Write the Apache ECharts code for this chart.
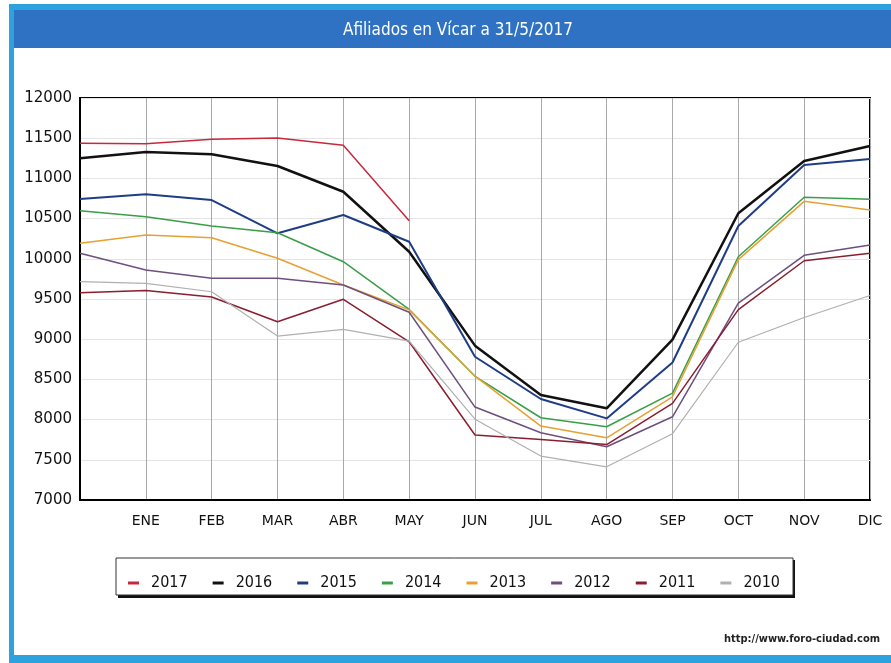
<!DOCTYPE html>
<html>
<head>
<meta charset="utf-8">
<script src="https://cdn.jsdelivr.net/npm/echarts@6/dist/echarts.min.js"></script>
<style>
  html, body { margin: 0; padding: 0; background: #fff; }
  #chart { width: 891px; height: 663px; }
</style>
</head>
<body>
<div id="chart"></div>
<script>
// first slot = December of the previous year
const months = ["", "ENE", "FEB", "MAR", "ABR", "MAY", "JUN", "JUL", "AGO", "SEP", "OCT", "NOV", "DIC"];
const yTicks = [7000, 12000, 500];

const y2017 = [11436, 11430, 11486, 11502, 11411, 10474, null, null, null, null, null, null, null];
const y2016 = [11250, 11328, 11300, 11154, 10834, 10088, 8920, 8305, 8140, 8995, 10566, 11216, 11403];
const y2015 = [10744, 10802, 10731, 10317, 10545, 10212, 8782, 8256, 8015, 8710, 10408, 11166, 11241];
const y2014 = [10598, 10523, 10408, 10324, 9964, 9370, 8538, 8023, 7911, 8330, 10026, 10765, 10740];
const y2013 = [10192, 10296, 10262, 10006, 9674, 9365, 8540, 7920, 7774, 8284, 9990, 10715, 10607];
const y2012 = [10068, 9860, 9757, 9757, 9674, 9335, 8156, 7836, 7662, 8035, 9450, 10043, 10171];
const y2011 = [9578, 9605, 9525, 9217, 9496, 8968, 7808, 7754, 7690, 8202, 9367, 9976, 10068];
const y2010 = [9715, 9695, 9590, 9039, 9123, 8975, 8005, 7546, 7413, 7825, 8962, 9270, 9543];

const years = [
  { name: "2017", data: y2017, color: "#c8283c", width: 1.5 },
  { name: "2016", data: y2016, color: "#111111", width: 2.5 },
  { name: "2015", data: y2015, color: "#1f3d86", width: 2 },
  { name: "2014", data: y2014, color: "#3a9e48", width: 1.5 },
  { name: "2013", data: y2013, color: "#e8a032", width: 1.5 },
  { name: "2012", data: y2012, color: "#6e4f7e", width: 1.5 },
  { name: "2011", data: y2011, color: "#8a1e30", width: 1.5 },
  { name: "2010", data: y2010, color: "#b0b0b0", width: 1.2 }
];

const chart = echarts.init(document.getElementById("chart"));

const option = {
  animation: false,
  backgroundColor: "#fff",
  graphic: [
    // frame and title bar
    { type: "rect", shape: { x: 9, y: 4, width: 882, height: 6 }, style: { fill: "#2ea2df" } },
    { type: "rect", shape: { x: 9, y: 4, width: 5, height: 659 }, style: { fill: "#2ea2df" } },
    { type: "rect", shape: { x: 14, y: 10, width: 877, height: 38 }, style: { fill: "#2f72c4" } },
    { type: "rect", shape: { x: 9, y: 655, width: 882, height: 8 }, style: { fill: "#2ea2df" } },
    {
      type: "text", x: 458, y: 31,
      style: {
        text: "Afiliados en Vícar a 31/5/2017", fill: "#fff",
        font: "17px 'DejaVu Sans Condensed'", textAlign: "center", textVerticalAlign: "middle"
      }
    },
    // legend box with shadow
    { type: "rect", z: 0, shape: { x: 118, y: 560, width: 677, height: 38 }, style: { fill: "#111" } },
    { type: "rect", z: 1, shape: { x: 116, y: 558, width: 677, height: 37 }, style: { fill: "#fff", stroke: "#333", lineWidth: 1 } },
    {
      type: "text", x: 880, y: 639,
      style: {
        text: "http://www.foro-ciudad.com", fill: "#222",
        font: "bold 11px 'DejaVu Sans Condensed'", textAlign: "right", textVerticalAlign: "middle"
      }
    }
  ],
  legend: {
    left: 123, top: 570,
    icon: "rect", itemWidth: 11, itemHeight: 3, itemGap: 25,
    textStyle: { fontFamily: "DejaVu Sans Condensed", fontSize: 16, color: "#111", padding: [0, 0, 0, 7] },
    data: years.map(y => y.name),
    z: 5
  },
  grid: { left: 80, right: 21, top: 98, bottom: 163, show: true, borderColor: "#000", borderWidth: 2 },
  xAxis: {
    type: "category",
    data: months,
    boundaryGap: false,
    axisLine: { lineStyle: { color: "#000", width: 2 } },
    axisTick: { show: false },
    axisLabel: { color: "#111", fontFamily: "DejaVu Sans", fontSize: 14, margin: 14 },
    splitLine: { show: true, lineStyle: { color: "#a8a8a8", width: 1 } }
  },
  yAxis: {
    type: "value",
    min: yTicks[0], max: yTicks[1], interval: yTicks[2],
    axisLine: { show: true, lineStyle: { color: "#000", width: 2 } },
    axisTick: { show: false },
    axisLabel: { color: "#111", fontFamily: "DejaVu Sans", fontSize: 15, margin: 8, formatter: v => String(v) },
    splitLine: { show: true, lineStyle: { color: "#e4e4e4", width: 1 } }
  },
  series: years.map(y => ({
    name: y.name,
    type: "line",
    data: y.data,
    symbol: "none",
    color: y.color,
    lineStyle: { color: y.color, width: y.width },
    connectNulls: false
  }))
};

chart.setOption(option);
</script>
</body>
</html>
